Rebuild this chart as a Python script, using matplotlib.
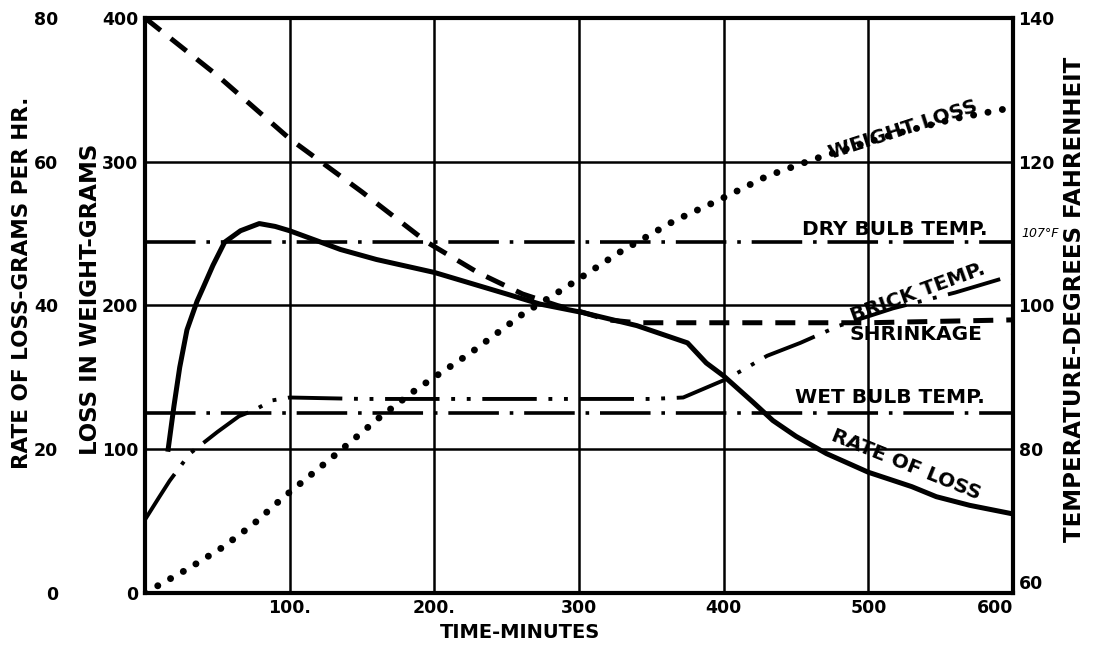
import matplotlib
matplotlib.use("Agg")
import matplotlib.pyplot as plt

# ---------------- data ----------------
time_weight = [0, 7, 30, 54, 75, 95, 129, 162, 188, 225, 261, 290, 328, 366, 396, 430, 463, 517, 560, 596]
weight_loss = [0, 4, 17, 32, 48, 66, 94, 122, 142, 167, 194, 212, 237, 259, 273, 290, 302, 319, 330, 337]

time_shrink = [0, 50, 100, 150, 195, 230, 261, 285, 300, 320, 340, 400, 500, 600]
shrinkage = [400, 360, 316, 279, 244, 223, 208, 200, 196, 190, 188, 188, 188, 190]

time_rate = [16, 20, 24, 29, 36, 40, 47, 55, 66, 79, 90, 100, 119, 135, 160, 200, 250, 273,
             303, 340, 375, 388, 400, 420, 434, 450, 471, 500, 530, 547, 570, 600]
rate_of_loss = [20, 26, 31.4, 36.6, 40.6, 42.4, 45.6, 48.8, 50.4, 51.4, 51, 50.4, 49, 47.8, 46.4,
                44.6, 41.6, 40.2, 39, 37.2, 34.8, 32, 30.2, 26.6, 24, 21.8, 19.4, 16.8, 14.8,
                13.4, 12.2, 11]

time_dry = [0, 600]
dry_bulb = [108.8, 108.8]
time_wet = [0, 600]
wet_bulb = [85, 85]

time_brick = [0, 10, 17, 31, 50, 65, 75, 88, 100, 150, 250, 350, 372, 386, 400, 413, 430,
              453, 480, 517, 560, 600]
brick_temp = [70.2, 73.4, 75.6, 79.4, 82.4, 84.6, 85.4, 86.8, 87.2, 87.0, 87.0, 87.0, 87.2,
              88.4, 89.6, 91.0, 93.0, 94.8, 97.2, 99.6, 101.8, 104.2]

x_ticks = [100, 200, 300, 400, 500, 600]
x_ticklabels = ["100.", "200.", "300", "400", "500", "600"]
weight_ticks = [0, 100, 200, 300, 400]
rate_ticks = [0, 20, 40, 60, 80]
temp_ticks = [60, 80, 100, 120, 140]

# ---------------- figure ----------------
plt.rcParams['font.family'] = ['DejaVu Sans']
plt.rcParams['font.weight'] = 'bold'
fig = plt.figure(figsize=(10.93, 6.48), dpi=100)
ax = fig.add_axes([145/1093, 55/648, 868/1093, 575/648])
ax_r = ax.twinx()
ax_t = ax.twinx()

ax.set_xlim(0, 600)
ax.set_ylim(0, 400)
ax_r.set_ylim(0, 80)
ax_t.set_ylim(60, 140)

# grid
ax.set_xticks(x_ticks)
ax.set_xticklabels(x_ticklabels)
ax.set_yticks(weight_ticks)
ax.grid(True, color='black', linewidth=1.8)
for s in ax.spines.values():
    s.set_linewidth(3)
    s.set_color('black')
for a in (ax_r, ax_t):
    for s in a.spines.values():
        s.set_visible(False)

tick_kw = dict(length=0, labelsize=12.5)
ax.tick_params(axis='both', pad=5, **tick_kw)
ax.tick_params(axis='x', pad=4)

ax_r.yaxis.tick_left()
ax_r.spines['left'].set_position(('axes', -0.095))
ax_r.set_yticks(rate_ticks)
ax_r.tick_params(axis='y', pad=3, **tick_kw)

ax_t.set_yticks(temp_ticks)
ax_t.yaxis.tick_right()
ax_t.tick_params(axis='y', pad=4, **tick_kw)

for a in (ax, ax_r, ax_t):
    for lab in a.get_yticklabels() + a.get_xticklabels():
        lab.set_fontweight('bold')
# avoid the corner clash between "600" and "60" (as in the original drawing)
ax.get_xticklabels()[-1].set_horizontalalignment('right')
ax_t.get_yticklabels()[0].set_verticalalignment('bottom')

# curves
ax.plot(time_weight, weight_loss, color='black', linewidth=5,
        linestyle=(0, (0.01, 2.1)), dash_capstyle='round')
ax.plot(time_shrink, shrinkage, color='black', linewidth=3.6,
        linestyle=(0, (4, 2.6)))
ax_r.plot(time_rate, rate_of_loss, color='black', linewidth=3.6, solid_joinstyle='round')
ax_t.plot(time_dry, dry_bulb, color='black', linewidth=2.6,
          linestyle=(0, (14, 3, 1, 3)))
ax_t.plot(time_wet, wet_bulb, color='black', linewidth=2.6,
          linestyle=(0, (14, 3, 1, 3)))
ax_t.plot(time_brick, brick_temp, color='black', linewidth=2.8,
          linestyle=(0, (14, 3, 1, 3, 1, 3)))

# curve labels
lab_kw = dict(fontsize=14.5, fontweight='bold', ha='center', va='center', color='black')
ax.text(524, 322, "WEIGHT LOSS", rotation=18, **lab_kw)
ax.text(518, 253, "DRY BULB TEMP.", **lab_kw)
ax.text(534, 209, "BRICK TEMP.", rotation=20, **lab_kw)
ax.text(533, 180, "SHRINKAGE", **lab_kw)
ax.text(515, 136, "WET BULB TEMP.", **lab_kw)
ax.text(526, 89, "RATE OF LOSS", rotation=-22, **lab_kw)
ax.text(619, 250, "107°F", fontsize=9, style='italic', fontweight='normal',
        ha='center', va='center', clip_on=False)

# axis labels
ax.text(0.432, -0.068, "TIME-MINUTES", transform=ax.transAxes, fontsize=14,
        fontweight='bold', ha='center', va='center')
ax.text(-0.142, 0.539, "RATE OF LOSS-GRAMS PER HR.", transform=ax.transAxes,
        fontsize=15.5, fontweight='bold', rotation=90, ha='center', va='center')
ax.text(-0.063, 0.51, "LOSS IN WEIGHT-GRAMS", transform=ax.transAxes,
        fontsize=16.5, fontweight='bold', rotation=90, ha='center', va='center')
ax.text(1.071, 0.51, "TEMPERATURE-DEGREES FAHRENHEIT", transform=ax.transAxes,
        fontsize=16.5, fontweight='bold', rotation=90, ha='center', va='center')

fig.savefig("out.png", dpi=100, facecolor='white')
